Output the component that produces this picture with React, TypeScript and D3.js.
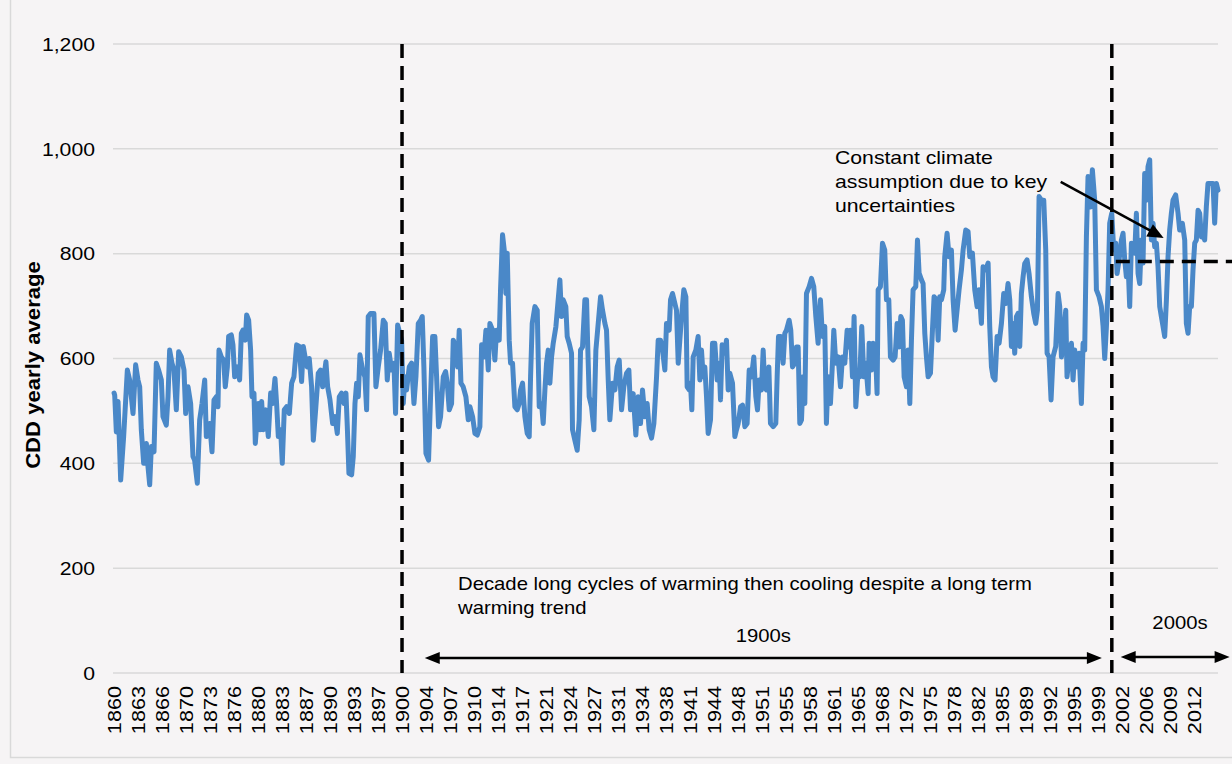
import React from "react";
import * as d3 from "d3";

// ---- data ----
const xLabels = ["1860","1863","1866","1870","1873","1876","1880","1883","1887","1890","1893","1897","1900","1904","1907","1910","1914","1917","1921","1924","1927","1931","1934","1938","1941","1944","1948","1951","1955","1958","1961","1965","1968","1972","1975","1978","1982","1985","1989","1992","1995","1999","2002","2006","2009","2012"];
const labelStartYear = 1860.43;
const labelStepYears = 3.38;
const yTicks = [0, 200, 400, 600, 800, 1000, 1200];

// [fractional year, CDD yearly average]
const cddSeries: [number, number][] = [
[1860.43,534],[1860.52,530],[1860.75,460],[1860.99,518],[1861.36,368],[1861.78,451],[1862.30,578],[1862.63,559],[1863.10,495],[1863.47,588],[1863.80,559],[1864.04,546],[1864.27,464],[1864.60,400],[1864.98,438],[1865.21,394],[1865.45,359],[1865.68,432],[1866.06,422],[1866.38,591],[1866.71,578],[1867.09,559],[1867.32,489],[1867.79,473],[1868.03,527],[1868.26,616],[1868.59,591],[1868.87,578],[1869.20,502],[1869.53,613],[1869.91,603],[1870.28,578],[1870.52,495],[1870.85,546],[1871.22,514],[1871.55,413],[1871.78,406],[1872.16,362],[1872.49,483],[1872.82,514],[1873.20,559],[1873.43,451],[1873.90,476],[1874.23,422],[1874.51,521],[1874.84,527],[1875.07,508],[1875.21,616],[1875.54,603],[1875.87,597],[1876.10,546],[1876.39,584],[1876.57,642],[1876.95,645],[1877.18,626],[1877.42,565],[1877.79,584],[1878.12,559],[1878.36,648],[1878.59,654],[1878.92,635],[1879.11,683],[1879.39,673],[1879.67,616],[1879.86,527],[1880.14,534],[1880.33,438],
[1880.75,514],[1880.99,464],[1881.22,518],[1881.46,464],[1881.83,502],[1882.16,451],[1882.49,534],[1882.77,514],[1883.10,562],[1883.33,514],[1883.57,451],[1883.90,464],[1884.13,400],[1884.41,502],[1884.74,508],[1885.12,495],[1885.45,553],[1885.77,565],[1886.15,626],[1886.53,623],[1886.85,556],[1887.09,623],[1887.42,597],[1887.65,584],[1887.93,600],[1888.26,546],[1888.50,444],[1888.83,502],[1889.20,572],[1889.53,578],[1889.81,546],[1890.00,565],[1890.28,594],[1890.52,546],[1890.85,521],[1891.22,476],[1891.55,489],[1891.88,457],[1892.16,527],[1892.49,534],[1892.82,514],[1893.10,534],[1893.29,470],[1893.52,381],[1893.90,378],[1894.13,413],[1894.37,514],[1894.60,553],[1894.84,527],[1895.07,607],[1895.45,578],[1895.77,565],[1896.01,502],[1896.24,680],[1896.57,686],[1897.04,686],[1897.32,546],[1897.65,584],[1897.98,616],[1898.36,673],[1898.64,667],[1898.92,559],[1899.20,610],[1899.53,578],[1899.86,591],[1900.09,495],[1900.38,664],
[1900.94,635],[1901.17,514],[1901.41,565],[1901.64,540],[1902.02,584],[1902.35,591],[1902.68,514],[1902.96,565],[1903.29,667],[1903.62,673],[1903.85,680],[1904.08,584],[1904.37,419],[1904.74,406],[1905.02,527],[1905.31,642],[1905.63,642],[1905.87,565],[1906.15,470],[1906.43,489],[1906.81,565],[1907.14,575],[1907.37,553],[1907.65,502],[1907.98,514],[1908.22,635],[1908.54,622],[1908.83,584],[1909.06,654],[1909.30,553],[1909.62,546],[1910.00,527],[1910.33,483],[1910.56,508],[1910.94,489],[1911.27,457],[1911.60,454],[1911.97,470],[1912.21,626],[1912.54,603],[1912.82,654],[1913.15,578],[1913.38,667],[1913.76,654],[1914.08,597],[1914.32,654],[1914.69,635],[1914.88,731],[1915.16,836],[1915.40,807],[1915.63,724],[1915.82,801],[1916.10,635],[1916.29,591],[1916.57,591],[1916.90,508],[1917.23,502],[1917.51,514],[1917.70,540],[1917.98,553],[1918.31,489],[1918.64,457],[1918.92,451],[1919.11,565],[1919.34,667],[1919.72,699],[1920.05,692],
[1920.33,508],[1920.66,514],[1920.89,476],[1921.13,540],[1921.36,591],[1921.60,616],[1921.83,553],[1922.07,603],[1922.30,629],[1922.68,661],[1923.00,712],[1923.24,750],[1923.47,680],[1923.71,712],[1924.08,699],[1924.27,642],[1924.55,629],[1924.88,610],[1925.02,464],[1925.35,444],[1925.68,425],[1925.96,483],[1926.15,616],[1926.43,622],[1926.76,712],[1927.00,712],[1927.14,635],[1927.37,527],[1927.70,508],[1928.03,464],[1928.31,616],[1928.64,667],[1928.97,718],[1929.25,692],[1929.58,667],[1929.81,654],[1930.05,559],[1930.28,483],[1930.66,553],[1930.99,540],[1931.31,584],[1931.60,597],[1931.93,502],[1932.25,546],[1932.63,572],[1932.96,578],[1933.19,502],[1933.57,533],[1933.94,454],[1934.27,527],[1934.60,476],[1934.88,540],[1935.21,489],[1935.54,514],[1935.82,464],[1936.15,448],[1936.48,476],[1936.86,565],[1937.09,635],[1937.42,635],[1937.70,616],[1938.03,578],[1938.26,667],[1938.64,654],[1938.83,712],[1939.11,724],
[1939.67,692],[1939.91,591],[1940.14,635],[1940.38,680],[1940.70,731],[1940.99,718],[1941.17,546],[1941.46,540],[1941.64,553],[1941.83,502],[1942.02,603],[1942.39,616],[1942.72,642],[1942.96,559],[1943.19,616],[1943.43,565],[1943.66,584],[1943.90,527],[1944.13,457],[1944.46,483],[1944.74,629],[1945.07,629],[1945.40,559],[1945.68,591],[1945.87,521],[1946.10,626],[1946.48,610],[1946.71,635],[1946.95,540],[1947.18,572],[1947.56,553],[1947.89,451],[1948.12,464],[1948.36,476],[1948.69,508],[1948.97,511],[1949.30,470],[1949.62,476],[1949.91,578],[1950.24,565],[1950.56,603],[1950.85,527],[1951.08,502],[1951.32,559],[1951.64,540],[1951.88,616],[1952.11,546],[1952.35,540],[1952.68,584],[1952.91,476],[1953.29,470],[1953.66,476],[1953.85,565],[1954.04,642],[1954.37,642],[1954.69,591],[1954.93,648],[1955.16,654],[1955.54,673],[1955.77,654],[1956.01,584],[1956.34,591],[1956.57,622],[1956.81,622],[1957.04,476],[1957.28,483],[1957.51,565],[1957.75,514],[1957.98,724],[1958.36,737],[1958.69,753],[1959.01,737],[1959.30,680],
[1959.62,629],[1959.95,712],[1960.23,642],[1960.56,661],[1960.79,476],[1961.03,565],[1961.36,514],[1961.64,591],[1961.83,654],[1962.11,591],[1962.44,603],[1962.77,546],[1963.05,603],[1963.38,591],[1963.71,654],[1963.99,622],[1964.18,654],[1964.46,565],[1964.69,680],[1964.93,508],[1965.26,578],[1965.49,565],[1965.77,661],[1966.06,565],[1966.34,591],[1966.67,533],[1966.81,629],[1967.14,578],[1967.37,629],[1967.70,616],[1967.93,533],[1968.08,731],[1968.40,737],[1968.69,820],[1969.01,807],[1969.25,712],[1969.58,712],[1969.81,603],[1970.19,597],[1970.47,603],[1970.75,667],[1971.03,622],[1971.27,680],[1971.50,673],[1971.74,565],[1972.07,546],[1972.30,616],[1972.54,514],[1972.77,635],[1973.00,731],[1973.38,737],[1973.62,826],[1973.85,763],[1974.18,750],[1974.41,743],[1974.65,648],[1974.88,603],[1975.12,565],[1975.45,572],[1975.73,654],[1975.96,718],[1976.29,712],[1976.53,635],[1976.76,718],[1977.00,712],[1977.32,731],[1977.46,794],[1977.79,839],[1978.07,794],[1978.40,807],[1978.64,712],[1978.92,654],
[1979.48,731],[1979.81,769],[1980.05,807],[1980.42,845],[1980.75,842],[1980.99,794],[1981.36,801],[1981.69,731],[1982.02,699],[1982.30,731],[1982.63,667],[1982.86,775],[1983.24,769],[1983.57,782],[1983.80,661],[1984.04,584],[1984.27,565],[1984.55,559],[1984.84,642],[1985.12,629],[1985.45,667],[1985.77,724],[1986.06,705],[1986.38,743],[1986.62,712],[1986.85,623],[1987.09,667],[1987.32,610],[1987.56,680],[1987.79,686],[1988.03,623],[1988.26,724],[1988.50,756],[1988.73,781],[1989.06,788],[1989.34,762],[1989.67,718],[1990.00,686],[1990.28,667],[1990.52,692],[1990.75,909],[1991.08,902],[1991.41,902],[1991.69,807],[1991.88,610],[1992.16,603],[1992.44,521],[1992.72,603],[1993.10,623],[1993.43,724],[1993.66,699],[1993.90,603],[1994.23,648],[1994.51,692],[1994.69,565],[1994.98,603],[1995.31,629],[1995.54,559],[1995.77,616],[1996.01,584],[1996.39,610],[1996.71,514],[1996.95,629],[1997.18,616],[1997.42,832],[1997.65,947],[1997.98,889],[1998.26,960],[1998.59,902],
[1998.83,731],[1999.20,718],[1999.53,699],[1999.77,661],[2000.00,600],[2000.24,661],[2000.47,731],[2000.70,858],[2000.99,877],[2001.27,807],[2001.55,820],[2001.74,762],[2002.02,788],[2002.35,826],[2002.58,839],[2002.82,788],[2003.05,756],[2003.29,782],[2003.52,699],[2003.76,820],[2003.99,807],[2004.23,801],[2004.46,877],[2004.70,762],[2004.93,743],[2005.16,826],[2005.40,782],[2005.63,953],[2005.87,902],[2006.10,966],[2006.34,979],[2006.57,826],[2006.81,858],[2007.04,813],[2007.28,820],[2007.51,775],[2007.75,699],[2007.98,680],[2008.22,661],[2008.45,642],[2008.69,711],[2008.92,794],[2009.15,845],[2009.39,877],[2009.62,902],[2010.00,912],[2010.33,877],[2010.56,845],[2010.94,858],[2011.27,826],[2011.50,667],[2011.74,648],[2011.97,699],[2012.21,699],[2012.44,769],[2012.68,820],[2012.91,826],[2013.15,883],[2013.38,877],[2013.62,832],[2013.85,845],[2014.08,826],[2014.32,890],[2014.55,934],[2014.88,934],[2015.26,934],[2015.49,858],[2015.73,934],[2015.96,921]
];

const constantClimateLevel = 785;
const dividerYears = [1901.0, 2001.0];
const yTitle = "CDD yearly average";
const noteTop = ["Constant climate", "assumption due to key", "uncertainties"];
const noteBottom = ["Decade long cycles of warming then cooling despite a long term", "warming trend"];
const span1900 = { label: "1900s", from: 1904.2, to: 1999.6 };
const span2000 = { label: "2000s", from: 2002.25, to: 2017.6 };
const pointer = { from: [1993.8, 937] as [number, number], to: [2008.3, 830] as [number, number] };

// ---- layout ----
const W = 1232, H = 764;
const FONT = "'Liberation Sans', Arial, Helvetica, sans-serif";
const SX = 1.14;

const x = d3.scaleLinear().domain([1860.28, 2015.96]).range([113, 1218]);
const y = d3.scaleLinear().domain([0, 1200]).range([673, 44]);

function T(props: { x: number; y: number; rot?: number; size: number; anchor?: string; weight?: string; dy?: string; children: React.ReactNode }) {
  const { rot = 0, anchor = "start", weight = "normal", dy = "0" } = props;
  return (
    <text
      transform={`translate(${props.x},${props.y}) rotate(${rot}) scale(${SX},1)`}
      fontFamily={FONT}
      fontSize={props.size}
      fontWeight={weight}
      textAnchor={anchor}
      dy={dy}
      fill="#000"
    >
      {props.children}
    </text>
  );
}

function head(tx: number, ty: number, angle: number, len = 15, w = 12) {
  const c = Math.cos(angle), s = Math.sin(angle);
  const bx = tx - c * len, by = ty - s * len;
  const px = -s * (w / 2), py = c * (w / 2);
  return `${tx},${ty} ${bx + px},${by + py} ${bx - px},${by - py}`;
}

function DoubleArrow({ x1, x2, yy }: { x1: number; x2: number; yy: number }) {
  return (
    <g>
      <line x1={x1 + 10} x2={x2 - 10} y1={yy} y2={yy} stroke="#000" strokeWidth={2.5} />
      <polygon points={head(x1, yy, Math.PI, 15, 12)} fill="#000" />
      <polygon points={head(x2, yy, 0, 15, 12)} fill="#000" />
    </g>
  );
}

export default function App() {
  const line = d3.line<[number, number]>().x(d => x(d[0])).y(d => y(d[1]));
  const pathD = line(cddSeries) || "";
  const px1 = x(pointer.from[0]), py1 = y(pointer.from[1]);
  const px2 = x(pointer.to[0]), py2 = y(pointer.to[1]);
  const ang = Math.atan2(py2 - py1, px2 - px1);
  return (
    <div style={{ position: "fixed", left: 0, top: 0, width: W, height: H, background: "#f6f4f5" }}>
      <svg width={W} height={H} style={{ display: "block" }}>
        <rect x={0} y={0} width={W} height={H} fill="#f6f4f5" />
        <path d={`M10.5,0 V757.5 H${W + 2}`} fill="none" stroke="#d9d9d9" strokeWidth={1.5} />
        {/* grid */}
        {yTicks.map(t => (
          <g key={t}>
            <line x1={113} x2={1218} y1={y(t)} y2={y(t)} stroke="#d9d9d9" strokeWidth={1.5} />
            <T x={95} y={y(t)} size={18.6} anchor="end" dy="0.36em">{d3.format(",")(t)}</T>
          </g>
        ))}
        {/* x labels */}
        {xLabels.map((lab, i) => (
          <T key={lab} x={x(labelStartYear + i * labelStepYears)} y={686} rot={-90} size={19} anchor="end" dy="0.36em">{lab}</T>
        ))}
        {/* y title */}
        <T x={33} y={365} rot={-90} size={19.4} weight="bold" anchor="middle" dy="0.36em">{yTitle}</T>
        {/* series */}
        <path d={pathD} fill="none" stroke="#4a88c8" strokeWidth={5} strokeLinejoin="round" strokeLinecap="round" />
        {/* dividers */}
        {dividerYears.map(yr => (
          <line key={yr} x1={x(yr)} x2={x(yr)} y1={y(1200)} y2={y(0)} stroke="#000" strokeWidth={3.5} strokeDasharray="14 8" />
        ))}
        <line x1={x(dividerYears[1]) + 4} x2={W} y1={y(constantClimateLevel)} y2={y(constantClimateLevel)} stroke="#000" strokeWidth={3.5} strokeDasharray="14 8" />
        {/* top note */}
        {noteTop.map((s, i) => (
          <T key={s} x={835} y={163.5 + i * 24.2} size={18.6}>{s}</T>
        ))}
        <line x1={px1} y1={py1} x2={px2 - Math.cos(ang) * 12} y2={py2 - Math.sin(ang) * 12} stroke="#000" strokeWidth={2.5} />
        <polygon points={head(px2, py2, ang, 16, 14)} fill="#000" />
        {/* bottom note */}
        {noteBottom.map((s, i) => (
          <T key={s} x={458} y={589.5 + i * 24} size={17.8}>{s}</T>
        ))}
        <T x={(x(span1900.from) + x(span1900.to)) / 2} y={642} size={17.8} anchor="middle">{span1900.label}</T>
        <DoubleArrow x1={x(span1900.from)} x2={x(span1900.to)} yy={658} />
        <T x={1180} y={629} size={17.8} anchor="middle">{span2000.label}</T>
        <DoubleArrow x1={x(span2000.from)} x2={x(span2000.to)} yy={657} />
      </svg>
    </div>
  );
}
